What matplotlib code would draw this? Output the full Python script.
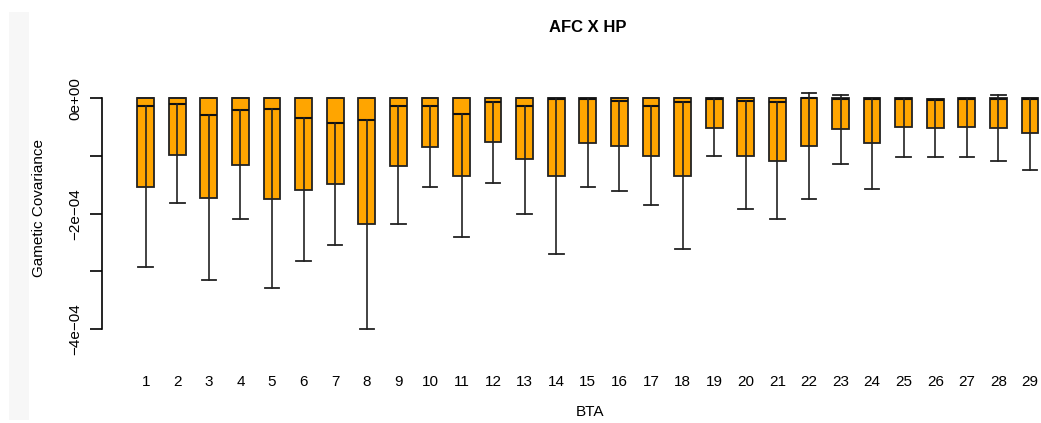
import matplotlib
matplotlib.use("Agg")
import matplotlib.pyplot as plt
from matplotlib.patches import Rectangle

plt.rcParams['font.family'] = ['Liberation Sans', 'DejaVu Sans']

title = "AFC X HP"
xlabel = "BTA"
ylabel = "Gametic Covariance"
categories = [str(i) for i in range(1, 30)]

# five-number summaries per chromosome (units of 1e-4)
whisker_low = [-2.93, -1.81, -3.15, -2.09, -3.28, -2.82, -2.55, -4.00, -2.18, -1.54,
               -2.40, -1.46, -2.00, -2.69, -1.54, -1.61, -1.85, -2.62, -1.00, -1.91,
               -2.09, -1.74, -1.13, -1.58, -1.02, -1.02, -1.02, -1.08, -1.24]
q1 = [-1.54, -0.98, -1.72, -1.16, -1.75, -1.59, -1.48, -2.18, -1.17, -0.84,
      -1.35, -0.75, -1.06, -1.35, -0.77, -0.82, -1.00, -1.35, -0.51, -1.00,
      -1.08, -0.82, -0.54, -0.77, -0.49, -0.51, -0.49, -0.51, -0.60]
median = [-0.13, -0.10, -0.29, -0.20, -0.19, -0.34, -0.42, -0.38, -0.14, -0.14,
          -0.27, -0.07, -0.14, -0.02, -0.02, -0.05, -0.14, -0.07, -0.02, -0.05,
          -0.07, 0.00, -0.02, -0.01, -0.01, -0.03, -0.01, -0.01, -0.01]
q3 = [0.00, 0.00, 0.00, 0.00, 0.00, 0.00, 0.00, 0.00, 0.00, 0.00,
      0.00, 0.00, 0.00, 0.00, 0.00, 0.00, 0.00, 0.00, 0.00, 0.00,
      0.00, 0.00, 0.00, 0.01, 0.01, -0.01, 0.01, 0.00, 0.01]
whisker_high = [0.00, 0.00, 0.00, 0.00, 0.00, 0.00, 0.00, 0.00, 0.00, 0.00,
                0.00, 0.00, 0.00, 0.00, 0.00, 0.00, 0.00, 0.00, 0.00, 0.00,
                0.00, 0.10, 0.06, 0.01, 0.01, -0.01, 0.01, 0.06, 0.01]

yticks = [0, -1e-4, -2e-4, -3e-4, -4e-4]
ytick_labels = ["0e+00", "", "\u22122e\u221204", "", "\u22124e\u221204"]

W, H = 1041, 423
fig = plt.figure(figsize=(W / 100, H / 100), dpi=100)
fig.patch.set_facecolor("white")

# light grey strip at left
fig.patches.append(Rectangle((9 / W, 1 - 420 / H), 20 / W, 408 / H,
                             transform=fig.transFigure, facecolor="#f7f7f7",
                             edgecolor="none", zorder=0))

ax_left, ax_right = 102, 1041
ax_top, ax_bot = 85, 345
ax = fig.add_axes([ax_left / W, 1 - ax_bot / H, (ax_right - ax_left) / W, (ax_bot - ax_top) / H])
ax.set_facecolor("none")

scale = 1e-4
stats = []
for i, lab in enumerate(categories):
    stats.append(dict(label=lab,
                      whislo=whisker_low[i] * scale,
                      q1=q1[i] * scale,
                      med=median[i] * scale,
                      q3=q3[i] * scale,
                      whishi=whisker_high[i] * scale,
                      fliers=[]))

positions = list(range(1, len(categories) + 1))
bp = ax.bxp(stats, positions=positions, widths=0.53, capwidths=0.46,
            patch_artist=True, showfliers=False,
            boxprops=dict(facecolor="#FFA500", edgecolor="#222222", linewidth=1.3),
            medianprops=dict(color="#111111", linewidth=1.5),
            whiskerprops=dict(color="#222222", linewidth=1.2, linestyle="-"),
            capprops=dict(color="#222222", linewidth=1.3))

# lower whisker line runs from the median line (as in the original)
for i, st in enumerate(stats):
    lw = bp["whiskers"][2 * i]
    lw.set_ydata([st["med"], st["whislo"]])
    lw.set_zorder(3)

# axis limits from pixel geometry
x1_px, spacing = 145.7, 31.58
ax.set_xlim(1 - (x1_px - ax_left) / spacing, 29 + (ax_right - 1030) / spacing)
px_per_unit = 57.7 / 1e-4
zero_px = 98.3
ax.set_ylim(-(ax_bot - zero_px) / px_per_unit, (zero_px - ax_top) / px_per_unit)

for s in ["top", "right", "bottom"]:
    ax.spines[s].set_visible(False)
ax.spines["left"].set_bounds(-4e-4, 0)
ax.spines["left"].set_linewidth(1.2)

ax.set_yticks(yticks)
ax.set_yticklabels(ytick_labels)
ax.tick_params(axis="y", length=9, width=1.2, pad=9, labelsize=11, labelrotation=90)
for t in ax.get_yticklabels():
    t.set_va("center")
    t.set_ha("center")
ax.tick_params(axis="y", pad=10)

ax.set_xticks(positions)
ax.set_xticklabels(categories)
ax.tick_params(axis="x", length=0, pad=21.5, labelsize=11)

ax.set_ylabel(ylabel, fontsize=11)
ax.yaxis.set_label_coords((39 - ax_left) / (ax_right - ax_left), (ax_bot - 208) / (ax_bot - ax_top))
ax.yaxis.label.set_va("center")

fig.text(588 / W, 1 - 28 / H, title, ha="center", va="center", fontsize=12, fontweight="bold")
fig.text(590 / W, 1 - 412 / H, xlabel, ha="center", va="center", fontsize=11)

fig.savefig("out.png", dpi=100)
